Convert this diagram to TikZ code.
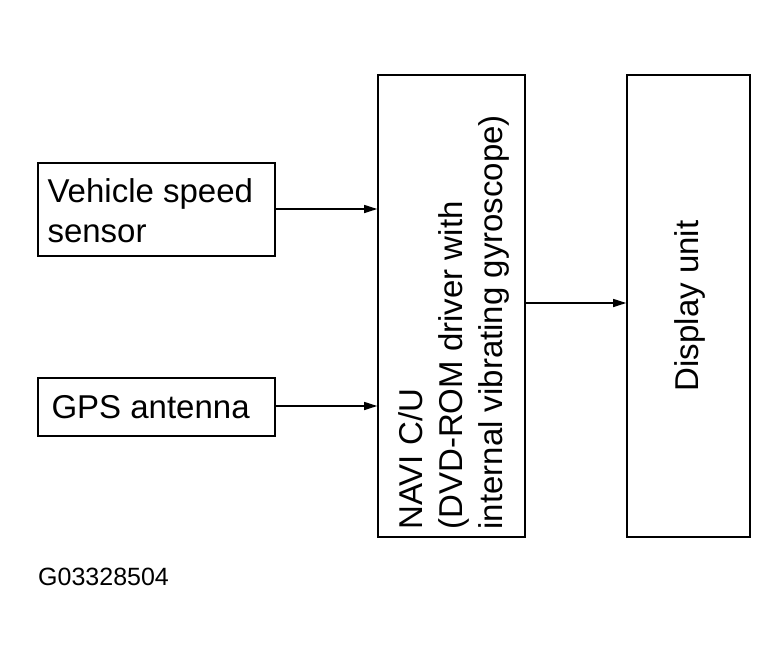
\documentclass[tikz,border=0pt]{standalone}
\usepackage{fontspec}
\setmainfont{Liberation Sans}
\usetikzlibrary{arrows.meta}
\begin{document}
\begin{tikzpicture}[x=1pt,y=-1pt,
  box/.style={draw,line width=1.6pt,inner sep=0pt},
  lbl/.style={font=\fontsize{33}{40}\selectfont,align=left},
  arr/.style={line width=1.2pt,-{Triangle[length=13pt,width=8pt]}}]
\useasboundingbox (0,0) rectangle (761,657);
\node[box,minimum width=237pt,minimum height=93pt] (vss) at (156.5,209.5) {};
\node[lbl,anchor=west] at (44,211) {Vehicle speed\\sensor};
\node[box,minimum width=237pt,minimum height=58pt] (gps) at (156.5,407) {};
\node[lbl,anchor=west] at (48,407) {GPS antenna};
\node[box,minimum width=147pt,minimum height=462pt] (navi) at (451.5,306) {};
\node[lbl,rotate=90,anchor=west] at (454,533) {NAVI C/U\\(DVD-ROM driver with\\internal vibrating gyroscope)};
\node[box,minimum width=123pt,minimum height=462pt] (disp) at (688.5,306) {};
\node[lbl,rotate=90] at (690,306) {Display unit};
\draw[arr] (vss.east|-0,209) -- (navi.west|-0,209);
\draw[arr] (gps.east|-0,406) -- (navi.west|-0,406);
\draw[arr] (navi.east|-0,303) -- (disp.west|-0,303);
\node[font=\fontsize{25}{28}\selectfont,anchor=west,inner sep=0pt] (code) at (38,577) {G03328504};
\end{tikzpicture}
\end{document}
